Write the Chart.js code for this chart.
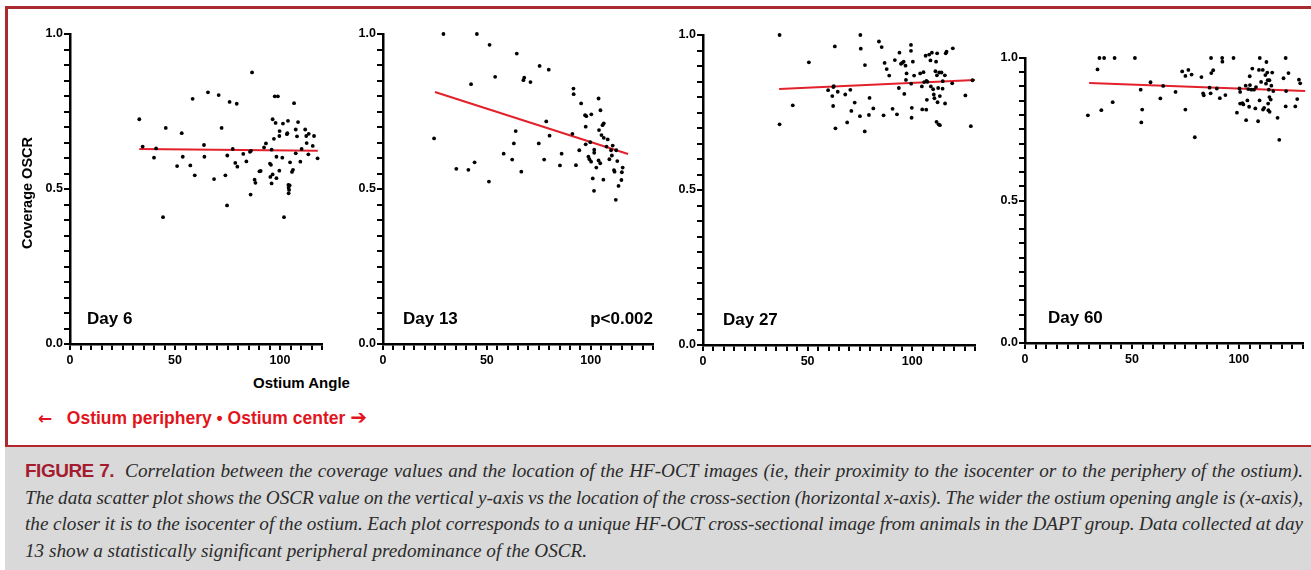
<!DOCTYPE html>
<html>
<head>
<meta charset="utf-8">
<script src="https://cdn.jsdelivr.net/npm/chart.js@4/dist/chart.umd.min.js"></script>
<style>
body { margin: 0; width: 1311px; height: 570px; overflow: hidden; background: #fff; position: relative; font-family: "Liberation Sans", Arial, sans-serif; }
#frame { position: absolute; left: 5px; top: 6px; width: 1306px; height: 564px; border-left: 3px solid #a92a2f; border-top: 3px solid #a92a2f; box-sizing: border-box; }
canvas { position: absolute; }
.lbl { position: absolute; font-weight: bold; white-space: nowrap; }
#xtitle { left: 253px; top: 374px; font-size: 15px; line-height: 18px; color: #000; }
#dir { left: 38px; top: 406px; font-size: 17.5px; line-height: 22px; color: #e2141c; }
.arrow { font-family: "DejaVu Sans", sans-serif; font-size: 17px; }
.arrow.big { font-size: 20px; }
#caption { position: absolute; left: 5px; top: 445px; width: 1306px; height: 125px; background: #d9d9d9; border-top: 2px solid #b3262e; box-sizing: border-box; }
.cap { position: absolute; left: 20px; font-family: "Liberation Serif", "Times New Roman", serif; font-style: italic; font-size: 19.2px; line-height: 26px; color: #2b2b2b; white-space: nowrap; }
.fig { font-family: "Liberation Sans", Arial, sans-serif; font-style: normal; font-weight: bold; color: #a51c30; font-size: 19px; letter-spacing: -0.5px; }
</style>
</head>
<body>
<div id="frame"></div>
<canvas id="c6"></canvas>
<canvas id="c13"></canvas>
<canvas id="c27"></canvas>
<canvas id="c60"></canvas>
<div class="lbl" id="xtitle">Ostium Angle</div>
<div class="lbl" id="dir"><span class="arrow">&#8592;</span>&nbsp;&nbsp; Ostium periphery &bull; Ostium center <span class="arrow big">&#10132;</span></div>
<div id="caption">
  <div class="cap just" style="top:11px"><span class="fig">FIGURE 7.</span>&nbsp; Correlation between the coverage values and the location of the HF-OCT images (ie, their proximity to the isocenter or to the periphery of the ostium).</div>
  <div class="cap just" style="top:38px">The data scatter plot shows the OSCR value on the vertical y-axis vs the location of the cross-section (horizontal x-axis). The wider the ostium opening angle is (x-axis),</div>
  <div class="cap just" style="top:64px">the closer it is to the isocenter of the ostium. Each plot corresponds to a unique HF-OCT cross-sectional image from animals in the DAPT group. Data collected at day</div>
  <div class="cap" style="top:91px">13 show a statistically significant peripheral predominance of the OSCR.</div>
</div>
<script>
const yTickLabels = ["0.0", "0.5", "1.0"];
const xTickLabels = [0, 50, 100];
const dayNames = ["Day 6", "Day 13", "Day 27", "Day 60"];
const yAxisTitle = "Coverage OSCR";
const pNote = "p<0.002";

// Day 6
const day6X = [33.0, 34.6, 40.0, 41.0, 44.3, 45.6, 51.0, 53.2, 53.7, 57.3, 58.4, 59.4, 63.8, 64.0, 65.7, 68.6, 70.8, 72.2, 74.0, 74.8, 74.9, 76.0, 77.5, 78.7, 79.4, 79.7, 82.5, 84.0, 85.7, 86.0, 86.2, 86.7, 87.9, 88.3, 90.2, 90.8, 92.4, 93.3, 95.2, 95.7, 96.0, 95.4, 96.0, 96.5, 96.5, 97.1, 97.5, 97.9, 98.3, 99.0, 98.3, 99.7, 99.8, 99.7, 101.1, 101.4, 101.9, 103.3, 103.5, 103.8, 104.0, 104.1, 104.3, 104.1, 104.6, 104.8, 105.7, 106.2, 106.7, 107.5, 107.5, 108.1, 108.6, 109.7, 110.3, 112.0, 112.7, 112.5, 113.7, 113.5, 115.6, 116.2, 117.9];
const day6Y = [0.725, 0.637, 0.601, 0.631, 0.409, 0.697, 0.574, 0.680, 0.604, 0.576, 0.791, 0.544, 0.642, 0.604, 0.812, 0.532, 0.803, 0.697, 0.544, 0.447, 0.608, 0.781, 0.629, 0.584, 0.775, 0.572, 0.613, 0.589, 0.620, 0.482, 0.623, 0.876, 0.530, 0.520, 0.557, 0.558, 0.634, 0.647, 0.582, 0.578, 0.627, 0.539, 0.518, 0.725, 0.547, 0.662, 0.799, 0.713, 0.604, 0.799, 0.535, 0.559, 0.687, 0.671, 0.601, 0.711, 0.409, 0.677, 0.680, 0.720, 0.513, 0.504, 0.497, 0.486, 0.512, 0.586, 0.555, 0.562, 0.777, 0.692, 0.615, 0.670, 0.716, 0.588, 0.629, 0.692, 0.648, 0.671, 0.678, 0.612, 0.639, 0.671, 0.599];
const fit6X = [33, 118];
const fit6Y = [0.629, 0.623];

// Day 13
const day13X = [24.6, 29.1, 35.3, 41.1, 42.4, 44.1, 45.2, 51.0, 51.3, 54.0, 58.1, 62.2, 63.0, 63.9, 64.4, 66.6, 67.6, 68.0, 71.0, 75.0, 75.4, 77.6, 78.6, 79.8, 80.2, 85.2, 86.0, 91.2, 91.7, 91.8, 92.9, 94.5, 95.4, 97.3, 97.6, 97.6, 97.9, 98.9, 99.4, 99.8, 100.3, 100.2, 101.0, 101.6, 101.7, 101.7, 102.7, 103.8, 103.8, 104.0, 104.6, 104.7, 105.2, 105.7, 106.1, 106.3, 106.3, 107.6, 108.2, 109.0, 109.8, 110.2, 110.6, 111.2, 111.5, 112.1, 112.3, 112.8, 113.4, 114.8, 115.0, 115.4];
const day13Y = [0.663, 1.0, 0.565, 0.562, 0.838, 0.586, 1.0, 0.524, 0.965, 0.862, 0.614, 0.595, 0.647, 0.687, 0.937, 0.556, 0.851, 0.859, 0.845, 0.647, 0.897, 0.595, 0.718, 0.885, 0.672, 0.576, 0.614, 0.678, 0.824, 0.806, 0.577, 0.625, 0.776, 0.738, 0.701, 0.644, 0.735, 0.604, 0.596, 0.651, 0.741, 0.588, 0.534, 0.494, 0.627, 0.617, 0.569, 0.792, 0.592, 0.690, 0.583, 0.754, 0.674, 0.706, 0.530, 0.712, 0.665, 0.637, 0.660, 0.596, 0.625, 0.608, 0.640, 0.561, 0.556, 0.465, 0.625, 0.590, 0.510, 0.529, 0.554, 0.569];
const fit13X = [25, 118];
const fit13Y = [0.813, 0.613];

// Day 27
const day27X = [36.6, 36.6, 42.9, 50.6, 59.8, 61.8, 62.2, 62.3, 62.5, 63.0, 63.3, 64.4, 68.0, 68.9, 70.4, 70.9, 72.5, 75.0, 75.2, 75.4, 77.3, 77.4, 79.3, 79.6, 81.4, 84.1, 85.4, 86.3, 86.8, 87.8, 89.0, 90.6, 91.7, 92.7, 93.6, 93.9, 94.6, 95.2, 95.9, 96.2, 96.8, 97.0, 97.3, 99.4, 99.4, 99.5, 99.7, 99.8, 100.3, 100.9, 103.8, 104.8, 104.6, 105.4, 105.7, 106.4, 106.7, 106.8, 107.0, 107.3, 108.1, 108.7, 108.9, 109.4, 110.0, 110.3, 110.6, 111.1, 111.4, 111.6, 111.8, 111.9, 112.1, 112.4, 112.6, 112.9, 113.2, 113.2, 114.0, 114.6, 114.5, 115.6, 115.7, 116.0, 116.4, 119.1, 119.4, 125.4, 128.0, 128.8];
const day27Y = [1.0, 0.712, 0.773, 0.912, 0.822, 0.803, 0.771, 0.832, 0.835, 0.963, 0.699, 0.817, 0.808, 0.718, 0.823, 0.755, 0.782, 0.738, 1.0, 0.956, 0.689, 0.903, 0.742, 0.797, 0.763, 0.979, 0.961, 0.741, 0.910, 0.890, 0.869, 0.762, 0.919, 0.744, 0.829, 0.943, 0.907, 0.910, 0.914, 0.810, 0.901, 0.855, 0.876, 0.968, 0.949, 0.843, 0.733, 0.765, 0.914, 0.869, 0.876, 0.760, 0.834, 0.880, 0.848, 0.933, 0.759, 0.852, 0.791, 0.849, 0.937, 0.918, 0.834, 0.943, 0.825, 0.808, 0.796, 0.883, 0.914, 0.720, 0.870, 0.941, 0.783, 0.829, 0.712, 0.879, 0.709, 0.803, 0.879, 0.851, 0.827, 0.870, 0.779, 0.941, 0.946, 0.844, 0.957, 0.805, 0.706, 0.854];
const fit27X = [36.4, 130];
const fit27Y = [0.826, 0.855];

// Day 60
const day60X = [29.4, 33.9, 34.8, 35.7, 37.0, 41.0, 41.9, 51.4, 54.1, 54.4, 54.8, 58.7, 63.3, 64.6, 70.4, 73.5, 75.0, 75.0, 76.4, 77.9, 79.4, 82.5, 83.3, 83.6, 86.3, 86.8, 87.0, 87.1, 88.0, 89.7, 91.1, 92.2, 92.3, 93.7, 97.5, 99.1, 100.3, 100.6, 100.6, 101.7, 102.1, 103.2, 103.4, 104.0, 104.4, 104.8, 105.1, 105.2, 105.8, 106.3, 107.1, 107.7, 108.0, 109.0, 109.4, 109.7, 109.8, 110.4, 111.2, 111.3, 111.8, 112.4, 112.7, 112.9, 113.3, 113.5, 113.7, 113.8, 114.0, 114.3, 114.3, 114.4, 114.9, 115.2, 115.6, 116.1, 118.1, 118.9, 120.9, 121.9, 122.1, 121.9, 123.2, 126.4, 127.3, 128.1, 128.7];
const day60Y = [0.799, 0.960, 1.0, 0.817, 1.0, 0.845, 1.0, 1.0, 0.889, 0.774, 0.819, 0.915, 0.858, 0.902, 0.881, 0.953, 0.937, 0.819, 0.958, 0.942, 0.722, 0.933, 0.876, 0.869, 0.896, 0.876, 1.0, 0.947, 0.957, 0.893, 0.859, 1.0, 0.987, 0.870, 1.0, 0.808, 0.893, 0.881, 0.840, 0.842, 0.837, 0.903, 0.782, 0.851, 0.891, 0.829, 0.936, 0.905, 0.889, 0.963, 0.889, 0.823, 0.898, 0.778, 0.958, 0.851, 1.0, 0.916, 0.958, 0.819, 0.825, 0.940, 0.910, 0.986, 0.949, 0.922, 0.840, 0.817, 0.889, 0.922, 0.863, 0.811, 0.854, 0.903, 0.949, 0.884, 0.790, 0.713, 0.929, 1.0, 0.884, 0.830, 0.947, 0.830, 0.856, 0.924, 0.911];
const fit60X = [30, 131];
const fit60Y = [0.912, 0.884];

const sansFont = '"Liberation Sans", Arial, sans-serif';

const panelText = {
    id: "panelText",
    afterDraw(chart, args, opts) {
        const ctx = chart.ctx;
        const area = chart.chartArea;
        ctx.save();
        ctx.fillStyle = "#000";
        ctx.font = "bold 17px " + sansFont;
        ctx.textBaseline = "middle";
        ctx.textAlign = "left";
        ctx.fillText(opts.day, area.left + opts.dayOffset, area.bottom - 25);
        if (opts.note) {
            ctx.textAlign = "right";
            ctx.fillText(opts.note, area.right, area.bottom - 25);
        }
        if (opts.yTitle) {
            ctx.font = "bold 14.5px " + sansFont;
            ctx.textAlign = "center";
            ctx.translate(area.left - 42, (area.top + area.bottom) / 2 + 4);
            ctx.rotate(-Math.PI / 2);
            ctx.fillText(opts.yTitle, 0, 0);
        }
        ctx.restore();
    }
};

function toPoints(xs, ys) {
    return xs.map(function (x, i) {
        return { x: x, y: ys[i] };
    });
}

function makePanel(id, box, xMax, xs, ys, fitX, fitY, textOpts) {
    const canvas = document.getElementById(id);
    const w = box.right - box.left + 70;
    const h = box.bottom - box.top + 44;
    canvas.width = w;
    canvas.height = h;
    canvas.style.left = (box.left - 60) + "px";
    canvas.style.top = (box.top - 14) + "px";
    canvas.style.width = w + "px";
    canvas.style.height = h + "px";

    const tickFont = { family: sansFont, size: 12.5, weight: "bold" };

    new Chart(canvas.getContext("2d"), {
        type: "scatter",
        data: {
            datasets: [
                {
                    data: toPoints(xs, ys),
                    pointRadius: 1.9,
                    pointBackgroundColor: "#000",
                    pointBorderWidth: 0,
                    showLine: false,
                    clip: false
                },
                {
                    data: toPoints(fitX, fitY),
                    showLine: true,
                    pointRadius: 0,
                    borderColor: "#e3212b",
                    borderWidth: 2,
                    clip: false
                }
            ]
        },
        options: {
            responsive: false,
            animation: false,
            devicePixelRatio: 1,
            layout: { padding: { left: 0, top: 14, right: 10, bottom: 0 } },
            plugins: {
                legend: { display: false },
                tooltip: { enabled: false },
                panelText: textOpts
            },
            scales: {
                x: {
                    type: "linear",
                    min: 0,
                    max: xMax,
                    border: { display: true, color: "#000", width: 2.5 },
                    grid: { drawOnChartArea: false, drawTicks: true, tickLength: 6, color: "#000", lineWidth: 2 },
                    ticks: {
                        stepSize: 5,
                        maxTicksLimit: 100,
                        autoSkip: false,
                        maxRotation: 0,
                        minRotation: 0,
                        padding: 3,
                        color: "#000",
                        font: tickFont,
                        callback: function (v) {
                            return xTickLabels.includes(v) ? String(v) : "";
                        }
                    },
                    afterFit: function (s) { s.height = 30; }
                },
                y: {
                    type: "linear",
                    min: 0,
                    max: 1,
                    border: { display: true, color: "#000", width: 2.5 },
                    grid: { drawOnChartArea: false, drawTicks: true, tickLength: 6, color: "#000", lineWidth: 2 },
                    ticks: {
                        stepSize: 0.05,
                        maxTicksLimit: 100,
                        autoSkip: false,
                        padding: 1,
                        color: "#000",
                        font: tickFont,
                        callback: function (v) {
                            const k = Math.round(v * 2);
                            return Math.abs(v * 2 - k) < 1e-6 ? yTickLabels[k] : "";
                        }
                    },
                    afterFit: function (s) { s.width = 60; }
                }
            }
        },
        plugins: [panelText]
    });
}

makePanel("c6", { left: 70, right: 322, top: 34, bottom: 344 }, 120, day6X, day6Y, fit6X, fit6Y,
    { day: dayNames[0], dayOffset: 17, yTitle: yAxisTitle });
makePanel("c13", { left: 383, right: 653, top: 34, bottom: 344 }, 130, day13X, day13Y, fit13X, fit13Y,
    { day: dayNames[1], dayOffset: 20, note: pNote });
makePanel("c27", { left: 703, right: 975, top: 35, bottom: 345 }, 130, day27X, day27Y, fit27X, fit27Y,
    { day: dayNames[2], dayOffset: 20 });
makePanel("c60", { left: 1025, right: 1303, top: 58, bottom: 343 }, 130, day60X, day60Y, fit60X, fit60Y,
    { day: dayNames[3], dayOffset: 23 });

// stretch the caption lines to the full width like the printed justified text
document.querySelectorAll(".cap.just").forEach(function (el) {
    const target = 1278;
    const natural = el.getBoundingClientRect().width;
    const spaces = (el.textContent.match(/[ \u00a0]/g) || []).length;
    if (spaces > 0) {
        el.style.wordSpacing = ((target - natural) / spaces) + "px";
    }
});
</script>
</body>
</html>
